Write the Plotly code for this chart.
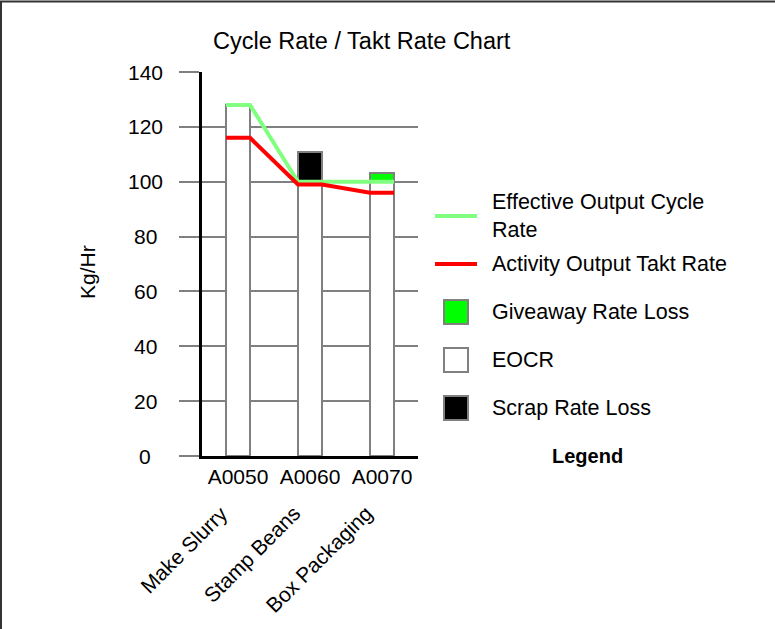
import plotly.graph_objects as go

# ---------------- data ----------------
codes = ["A0050", "A0060", "A0070"]
process_names = ["Make Slurry", "Stamp Beans", "Box Packaging"]
eocr = [128, 100, 100]
giveaway_rate_loss = [0, 0, 3]
scrap_rate_loss = [0, 11, 0]
effective_output_cycle_rate = [128, 100, 100]
activity_output_takt_rate = [116, 99, 96]
y_tick_values = [0, 20, 40, 60, 80, 100, 120, 140]

# ---------------- style ----------------
FONT = "Liberation Sans, Arial, sans-serif"
FS = 21
LEG_FS = 21.5
W, H = 775, 629
L, R, T, B = 202, 418, 72, 456          # plot area in pixels
BAR_W = 1 / 3
GRAY = "#808080"
LIGHT_GREEN = "#80FF80"
RED = "#FF0000"
GREEN = "#00FF00"


def px(xp):
    return (xp - L) / (R - L)


def py(yp):
    return (B - yp) / (B - T)


xs = list(range(len(codes)))


def step_line(vals):
    lx, ly = [], []
    for i, v in zip(xs, vals):
        lx += [i - BAR_W / 2, i + BAR_W / 2]
        ly += [v, v]
    return lx, ly


fig = go.Figure()
fig.add_bar(x=xs, y=eocr, width=BAR_W, name="EOCR",
            marker=dict(color="white", line=dict(color=GRAY, width=2)))
fig.add_bar(x=xs, y=giveaway_rate_loss, width=BAR_W, name="Giveaway Rate Loss",
            marker=dict(color=GREEN, line=dict(color=GRAY, width=2)))
fig.add_bar(x=xs, y=scrap_rate_loss, width=BAR_W, name="Scrap Rate Loss",
            marker=dict(color="black", line=dict(color=GRAY, width=2)))

gx, gy = step_line(effective_output_cycle_rate)
fig.add_scatter(x=gx, y=gy, mode="lines", name="Effective Output Cycle Rate",
                line=dict(color=LIGHT_GREEN, width=4))
rx, ry = step_line(activity_output_takt_rate)
fig.add_scatter(x=rx, y=ry, mode="lines", name="Activity Output Takt Rate",
                line=dict(color=RED, width=4))

annotations = []
shapes = []

# y tick labels (centered)
for v in y_tick_values:
    annotations.append(dict(x=px(145), xref="paper", y=v, yref="y", text=str(v),
                            showarrow=False, xanchor="center", yanchor="middle",
                            font=dict(size=FS, color="black", family=FONT)))

# rotated process names
for i, name in zip(xs, process_names):
    annotations.append(dict(x=i - 0.04, xref="x", y=py(499), yref="paper", text=name,
                            textangle=-45, showarrow=False, xanchor="right", yanchor="top",
                            font=dict(size=FS, color="black", family=FONT)))

# title
annotations.append(dict(x=px(362), xref="paper", y=py(41), yref="paper",
                        text="Cycle Rate / Takt Rate Chart", showarrow=False,
                        xanchor="center", yanchor="middle",
                        font=dict(size=23.5, color="black", family=FONT)))
# y axis title
annotations.append(dict(x=px(87), xref="paper", y=py(272), yref="paper", text="Kg/Hr",
                        textangle=-90, showarrow=False, xanchor="center", yanchor="middle",
                        font=dict(size=FS, color="black", family=FONT)))

# manual legend
legend_items = [
    ("line", LIGHT_GREEN, "Effective Output Cycle<br>Rate", 216),
    ("line", RED, "Activity Output Takt Rate", 264),
    ("box", GREEN, "Giveaway Rate Loss", 312),
    ("box", "white", "EOCR", 360),
    ("box", "black", "Scrap Rate Loss", 408),
]
for kind, color, label, yc in legend_items:
    if kind == "line":
        shapes.append(dict(type="line", xref="paper", yref="paper",
                           x0=px(435), x1=px(477), y0=py(yc), y1=py(yc),
                           line=dict(color=color, width=4)))
    else:
        shapes.append(dict(type="rect", xref="paper", yref="paper",
                           x0=px(444), x1=px(468), y0=py(yc - 12), y1=py(yc + 12),
                           fillcolor=color, line=dict(color=GRAY, width=2)))
    annotations.append(dict(x=px(490), xref="paper", y=py(yc), yref="paper", text=label,
                            showarrow=False, xanchor="left", yanchor="middle", align="left",
                            font=dict(size=LEG_FS, color="black", family=FONT)))
annotations.append(dict(x=px(587), xref="paper", y=py(456), yref="paper", text="<b>Legend</b>",
                        showarrow=False, xanchor="center", yanchor="middle",
                        font=dict(size=20, color="black", family=FONT)))

# outer frame
shapes.append(dict(type="rect", xref="paper", yref="paper",
                   x0=px(1), x1=px(790), y0=py(650), y1=py(1.5),
                   line=dict(color="#333333", width=2), fillcolor="rgba(0,0,0,0)"))

fig.update_layout(
    width=W, height=H,
    margin=dict(l=L, r=W - R, t=T, b=H - B, pad=0),
    barmode="stack",
    bargap=0,
    showlegend=False,
    plot_bgcolor="white",
    paper_bgcolor="white",
    font=dict(family=FONT, size=FS, color="black"),
    annotations=annotations,
    shapes=shapes,
    xaxis=dict(range=[-0.5, len(codes) - 0.5], tickvals=xs, ticktext=codes,
               showgrid=False, zeroline=False, showline=True, linecolor="black",
               linewidth=3, ticks="", tickfont=dict(size=FS, family=FONT)),
    yaxis=dict(range=[0, 140], tickvals=y_tick_values, showticklabels=False,
               showgrid=True, gridcolor=GRAY, gridwidth=1.5, zeroline=False,
               showline=True, linecolor="black", linewidth=3,
               ticks="outside", ticklen=20, tickcolor=GRAY, tickwidth=1.5),
)

fig.write_html("out.html", config={"displayModeBar": False},
               post_script="document.body.style.margin='0';document.body.style.overflow='hidden';")
